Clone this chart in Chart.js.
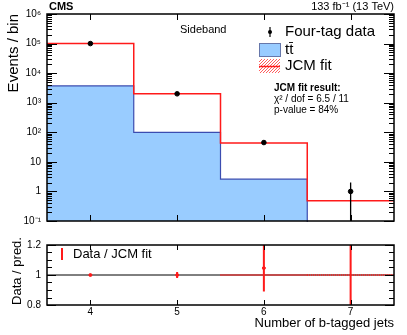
<!DOCTYPE html>
<html><head><meta charset="utf-8">
<script src="https://cdn.jsdelivr.net/npm/chart.js@4.4.0/dist/chart.umd.min.js"></script>
<style>
html,body{margin:0;padding:0;background:#fff;}
#wrap{position:relative;width:407px;height:335px;overflow:hidden;background:#fff;}
#c1{position:absolute;left:0;top:0;}
#c2{position:absolute;left:0;top:233px;}
</style></head><body>
<div id="wrap"><canvas id="c1" width="407" height="233"></canvas><canvas id="c2" width="407" height="102"></canvas></div>
<script>
// ---- data ----
const binEdges = [3.5, 4.5, 5.5, 6.5, 7.5];
const binCenters = [4, 5, 6, 7];
const dataValues = [100000, 2000, 45, 1];
const dataErrors = [316, 45, 6.7, 1];
const ttbarValues = [3700, 100, 2.6, 0];
const jcmValues = [100000, 2000, 43, 0.48];
const ratioValues = [1.0, 1.0, 1.046, 2.08];
const ratioErrors = [0.003, 0.02, 0.156, 2.08];
const jcmRatioUnc = [0, 0, 0.005, 0.005];
const yTickValues = [0.1, 1, 10, 100, 1000, 10000, 100000, 1000000];
const yTickLabels = ['10⁻¹', '1', '10', '10²', '10³', '10⁴', '10⁵', '10⁶'];
const ratioTickValues = [0.8, 1, 1.2];
const ratioTickLabels = ['0.8', '1', '1.2'];
const xTickValues = [4, 5, 6, 7];
const xTickLabels = ['4', '5', '6', '7'];

const FONT = "'Liberation Sans', Arial, Helvetica, sans-serif";
const RED = '#ff1a1a';

function stepPoints(vals, floorV) {
  const pts = vals.map((v, i) => ({x: binEdges[i], y: v > 0 ? v : floorV}));
  pts.push({x: binEdges[vals.length], y: pts[pts.length - 1].y});
  return pts;
}

function hatchBox(ctx, x, y, w, h) {
  ctx.save();
  ctx.beginPath(); ctx.rect(x, y, w, h); ctx.clip();
  ctx.strokeStyle = 'rgba(255,40,40,0.75)'; ctx.lineWidth = 1;
  ctx.beginPath();
  for (let k = -h; k < w + h; k += 3) { ctx.moveTo(x + k, y + h); ctx.lineTo(x + k + h, y); }
  ctx.stroke();
  ctx.restore();
}

function frameAndTicks(chart, yTicks, xTickLen) {
  const {ctx, chartArea: a, scales} = chart;
  ctx.save();
  ctx.strokeStyle = '#000'; ctx.lineWidth = 1;
  ctx.beginPath();
  yTicks.forEach(t => {
    const y = Math.round(scales.y.getPixelForValue(t.v)) + 0.5;
    if (y < a.top - 1 || y > a.bottom + 1) return;
    ctx.moveTo(a.left, y); ctx.lineTo(a.left + t.len, y);
    ctx.moveTo(a.right, y); ctx.lineTo(a.right - t.len, y);
  });
  xTickValues.forEach(v => {
    const x = Math.round(scales.x.getPixelForValue(v)) + 0.5;
    ctx.moveTo(x, a.bottom); ctx.lineTo(x, a.bottom - xTickLen);
    ctx.moveTo(x, a.top); ctx.lineTo(x, a.top + xTickLen);
  });
  ctx.stroke();
  ctx.lineWidth = 1.5;
  ctx.strokeRect(a.left, a.top, a.right - a.left, a.bottom - a.top);
  ctx.restore();
}

function errorBars(chart, vals, errs, color, width) {
  const {ctx, chartArea: a, scales} = chart;
  ctx.save();
  ctx.beginPath(); ctx.rect(a.left, a.top, a.right - a.left, a.bottom - a.top); ctx.clip();
  ctx.strokeStyle = color; ctx.lineWidth = width;
  ctx.beginPath();
  binCenters.forEach((x, i) => {
    const px = scales.x.getPixelForValue(x);
    const lo = vals[i] - errs[i], hi = vals[i] + errs[i];
    let y1 = lo > scales.y.min ? scales.y.getPixelForValue(lo) : a.bottom + 2;
    let y2 = hi < scales.y.max ? scales.y.getPixelForValue(hi) : a.top - 2;
    ctx.moveTo(px, y1); ctx.lineTo(px, y2);
  });
  ctx.stroke();
  ctx.restore();
}

// ---- top panel ----
const logTicks = [];
for (let d = -1; d <= 5; d++) for (let m = 1; m <= 9; m++) logTicks.push({v: m * Math.pow(10, d), len: m === 1 ? 10 : 5});
logTicks.push({v: 1e6, len: 10});

const topPlugin = {
  id: 'topDecor',
  afterDatasetsDraw(chart) {
    errorBars(chart, dataValues, dataErrors, '#000', 1.3);
    frameAndTicks(chart, logTicks, 6);
    const ctx = chart.ctx;
    ctx.save();
    ctx.fillStyle = '#000'; ctx.textBaseline = 'middle';
    ctx.font = 'bold 11px ' + FONT; ctx.textAlign = 'left';
    ctx.fillText('CMS', 49, 7);
    ctx.font = '11px ' + FONT; ctx.textAlign = 'right';
    ctx.fillText('133 fb⁻¹ (13 TeV)', 394, 7);
    ctx.textAlign = 'left';
    ctx.fillText('Sideband', 180, 30);
    // legend
    ctx.strokeStyle = '#000'; ctx.lineWidth = 1.2;
    ctx.beginPath(); ctx.moveTo(270, 27); ctx.lineTo(270, 37); ctx.stroke();
    ctx.beginPath(); ctx.arc(270, 32, 2, 0, Math.PI * 2); ctx.fill();
    ctx.fillStyle = '#99ccff'; ctx.fillRect(259, 43, 21, 13);
    ctx.strokeStyle = '#6677aa'; ctx.lineWidth = 1; ctx.strokeRect(259.5, 43.5, 21, 13);
    hatchBox(ctx, 259, 59, 21, 14);
    ctx.strokeStyle = RED; ctx.lineWidth = 1.5;
    ctx.beginPath(); ctx.moveTo(259, 66.5); ctx.lineTo(280, 66.5); ctx.stroke();
    ctx.fillStyle = '#000'; ctx.font = '15px ' + FONT;
    ctx.fillText('Four-tag data', 285, 32);
    ctx.fillText('tt\u0304', 285, 50);
    ctx.fillText('JCM fit', 285, 66);
    ctx.font = 'bold 10px ' + FONT;
    ctx.fillText('JCM fit result:', 274, 88);
    ctx.font = '10px ' + FONT;
    ctx.fillText('χ² / dof = 6.5 / 11', 274, 99);
    ctx.fillText('p-value = 84%', 274, 110);
    // y title
    ctx.save();
    ctx.translate(14, 14); ctx.rotate(-Math.PI / 2);
    ctx.font = '15px ' + FONT; ctx.textAlign = 'right';
    ctx.fillText('Events / bin', 0, 0);
    ctx.restore();
    ctx.restore();
  }
};

new Chart(document.getElementById('c1'), {
  type: 'scatter',
  data: {datasets: [
    {type: 'line', label: 'ttbar', data: stepPoints(ttbarValues, 1e-3), stepped: 'before', fill: 'start',
     backgroundColor: '#99ccff', borderColor: '#3b4cb0', borderWidth: 1.2, pointRadius: 0, order: 3, clip: 1},
    {type: 'line', label: 'JCM fit', data: stepPoints(jcmValues, 1e-3), stepped: 'before', fill: false,
     borderColor: RED, borderWidth: 1.5, pointRadius: 0, order: 2, clip: 1},
    {type: 'scatter', label: 'Four-tag data', data: binCenters.map((x, i) => ({x: x, y: dataValues[i]})),
     pointRadius: 2.3, backgroundColor: '#000', borderColor: '#000', order: 1}
  ]},
  options: {
    responsive: false, animation: false, events: [],
    layout: {padding: {top: 14, right: 13, left: 0, bottom: 0}},
    plugins: {legend: {display: false}, tooltip: {enabled: false}},
    scales: {
      x: {type: 'linear', min: 3.5, max: 7.5, grid: {display: false, drawTicks: false}, border: {display: false},
          ticks: {display: false}, afterFit(s) { s.height = 4; }},
      y: {type: 'logarithmic', min: 0.1, max: 1e6, grid: {display: false, drawTicks: false}, border: {display: false},
          afterBuildTicks(s) { s.ticks = yTickValues.map(v => ({value: v})); },
          ticks: {color: '#000', font: {family: FONT, size: 10}, padding: 6,
                  callback: (v, i) => yTickLabels[i]},
          afterFit(s) { s.width = 47; }}
    }
  },
  plugins: [topPlugin]
});

// ---- ratio panel ----
const ratioTicks = [];
for (let k = 0; k <= 8; k++) ratioTicks.push({v: 0.8 + k * 0.05, len: (k % 4 === 0) ? 9 : 5});

const ratioPlugin = {
  id: 'ratioDecor',
  afterDatasetsDraw(chart) {
    const {ctx, chartArea: a, scales} = chart;
    // JCM fit uncertainty band (hatched)
    ctx.save();
    ctx.beginPath(); ctx.rect(a.left, a.top, a.right - a.left, a.bottom - a.top); ctx.clip();
    ctx.strokeStyle = RED; ctx.setLineDash([1, 1]);
    jcmRatioUnc.forEach((u, i) => {
      if (u <= 0) return;
      const x1 = scales.x.getPixelForValue(binEdges[i]), x2 = scales.x.getPixelForValue(binEdges[i + 1]);
      const yT = scales.y.getPixelForValue(1 + u), yB = scales.y.getPixelForValue(1 - u);
      ctx.lineWidth = Math.max(2, yB - yT);
      ctx.beginPath(); ctx.moveTo(x1, (yT + yB) / 2); ctx.lineTo(x2, (yT + yB) / 2); ctx.stroke();
    });
    ctx.restore();
    errorBars(chart, ratioValues, ratioErrors, RED, 2);
    frameAndTicks(chart, ratioTicks, 5);
    ctx.save();
    ctx.fillStyle = '#000'; ctx.textBaseline = 'middle';
    ctx.strokeStyle = RED; ctx.lineWidth = 2;
    ctx.beginPath(); ctx.moveTo(62, 15); ctx.lineTo(62, 27); ctx.stroke();
    ctx.font = '13px ' + FONT; ctx.textAlign = 'left';
    ctx.fillText('Data / JCM fit', 73, 21);
    ctx.textAlign = 'right';
    ctx.fillText('Number of b-tagged jets', 394, 90);
    ctx.save();
    ctx.translate(17, 38); ctx.rotate(-Math.PI / 2);
    ctx.textAlign = 'center';
    ctx.fillText('Data / pred.', 0, 0);
    ctx.restore();
    ctx.restore();
  }
};

new Chart(document.getElementById('c2'), {
  type: 'scatter',
  data: {datasets: [
    {type: 'line', label: 'unity', data: [{x: binEdges[0], y: 1}, {x: binEdges[binEdges.length - 1], y: 1}],
     borderColor: '#000', borderWidth: 1, pointRadius: 0, fill: false, order: 3},
    {type: 'scatter', label: 'Data / JCM fit', data: binCenters.map((x, i) => ({x: x, y: ratioValues[i]})),
     pointRadius: 1.5, backgroundColor: RED, borderColor: RED, order: 1, clip: 0}
  ]},
  options: {
    responsive: false, animation: false, events: [],
    layout: {padding: {top: 5, right: 13, left: 0, bottom: 0}},
    plugins: {legend: {display: false}, tooltip: {enabled: false}},
    scales: {
      x: {type: 'linear', min: 3.5, max: 7.5, grid: {display: false, drawTicks: false}, border: {display: false},
          afterBuildTicks(s) { s.ticks = xTickValues.map(v => ({value: v})); },
          ticks: {color: '#000', font: {family: FONT, size: 10}, padding: 1, maxRotation: 0,
                  callback: (v, i) => xTickLabels[i]},
          afterFit(s) { s.height = 30; }},
      y: {type: 'linear', min: 0.8, max: 1.2, grid: {display: false, drawTicks: false}, border: {display: false},
          afterBuildTicks(s) { s.ticks = ratioTickValues.map(v => ({value: v})); },
          ticks: {color: '#000', font: {family: FONT, size: 10}, padding: 6,
                  callback: (v, i) => ratioTickLabels[i]},
          afterFit(s) { s.width = 47; }}
    }
  },
  plugins: [ratioPlugin]
});
</script>
</body></html>
